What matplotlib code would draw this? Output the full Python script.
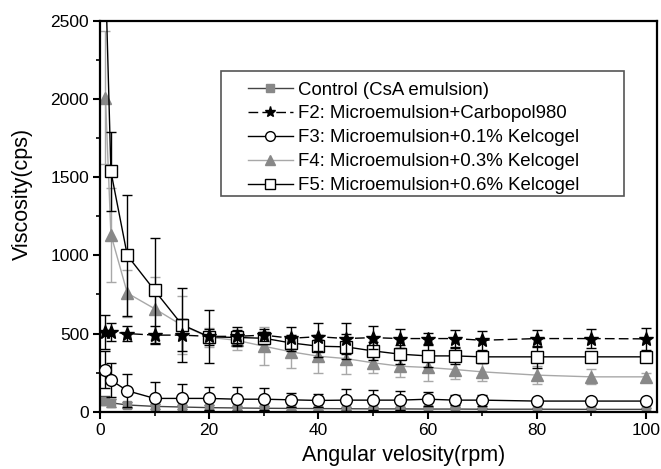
import matplotlib.pyplot as plt
from matplotlib.lines import Line2D
from matplotlib.patches import Rectangle
import numpy as np

plt.rcParams['font.family'] = ['Liberation Sans', 'DejaVu Sans']

# angular velocity (rpm)
rpm = [1, 2, 5, 10, 15, 20, 25, 30, 35, 40, 45, 50, 55, 60, 65, 70, 80, 90, 100]

# viscosity (cps) and error bars
control = [70, 57, 43, 34, 30, 26, 24, 22, 21, 20, 19, 18, 18, 17, 17, 16, 16, 15, 15]
control_err = [30, 25, 20, 18, 15, 15, 12, 12, 10, 10, 10, 10, 10, 10, 10, 10, 10, 10, 10]

f2 = [510, 510, 500, 490, 490, 482, 482, 490, 470, 480, 468, 474, 468, 468, 468, 457, 468, 468, 466]
f2_err = [110, 60, 50, 60, 100, 170, 60, 40, 70, 90, 100, 75, 60, 35, 55, 60, 55, 60, 70]

f3 = [270, 202, 134, 85, 85, 85, 80, 80, 76, 72, 74, 74, 74, 80, 74, 74, 68, 68, 68]
f3_err = [120, 110, 106, 106, 92, 75, 75, 70, 45, 40, 69, 65, 60, 45, 30, 35, 20, 15, 15]

f4 = [2010, 1133, 759, 659, 553, 476, 457, 419, 383, 355, 340, 313, 291, 283, 270, 255, 234, 223, 223]
f4_err = [425, 300, 150, 200, 185, 60, 60, 120, 105, 110, 100, 68, 68, 85, 63, 57, 57, 48, 25]

f5 = [2800, 1537, 1000, 776, 557, 479, 475, 470, 440, 419, 415, 389, 368, 357, 357, 351, 351, 351, 351]
f5_err = [250, 250, 385, 335, 236, 50, 50, 40, 50, 70, 80, 60, 60, 70, 50, 40, 70, 20, 20]

labels = ['Control (CsA emulsion)',
          'F2: Microemulsion+Carbopol980',
          'F3: Microemulsion+0.1% Kelcogel',
          'F4: Microemulsion+0.3% Kelcogel',
          'F5: Microemulsion+0.6% Kelcogel']

W, H = 661, 469
fig = plt.figure(figsize=(W / 100, H / 100), dpi=100)
ax = fig.add_axes([100 / W, 1 - 411.7 / H, 557 / W, 390.7 / H])

grey = '#888888'
light = '#a8a8a8'
dash = (0, (7, 3))

ax.errorbar(rpm, control, yerr=control_err, color='#444444', ecolor='#444444',
            marker='s', mfc=grey, mec=grey, ms=6, lw=1, capsize=3.5, elinewidth=1, zorder=2)
ax.errorbar(rpm, f2, yerr=f2_err, color='black', ecolor='black', marker='*',
            mfc='black', mec='black', ms=10, lw=1, ls=dash, capsize=3.5,
            elinewidth=1, zorder=4)
ax.errorbar(rpm, f3, yerr=f3_err, color='black', ecolor='black', marker='o',
            mfc='white', mec='black', ms=8.5, lw=1, capsize=3.5, elinewidth=1, zorder=3)
ax.errorbar(rpm, f4, yerr=f4_err, color=light, ecolor=light, marker='^',
            mfc=grey, mec=grey, ms=8, lw=1, capsize=3.5, elinewidth=1, zorder=2)
ax.errorbar(rpm, f5, yerr=f5_err, color='black', ecolor='black', marker='s',
            mfc='white', mec='black', ms=9, lw=1, capsize=3.5, elinewidth=1, zorder=3)

ax.set_xlim(0, 102)
ax.set_ylim(0, 2500)
ax.set_xticks([0, 20, 40, 60, 80, 100])
ax.set_xticks(np.arange(10, 100, 10), minor=True)
ax.set_yticks([0, 500, 1000, 1500, 2000, 2500])
ax.set_yticks(np.arange(250, 2500, 500), minor=True)
ax.tick_params(axis='both', which='major', direction='out', length=5, width=1.5,
               labelsize=12.5, pad=3)
ax.tick_params(axis='both', which='minor', direction='out', length=3, width=1.2)
for side in ['left', 'bottom', 'top', 'right']:
    ax.spines[side].set_linewidth(1.6)

ax.set_xlabel('Angular velosity(rpm)', fontsize=15.5)
ax.set_ylabel('Viscosity(cps)', fontsize=15.5)
ax.xaxis.set_label_coords(0.546, -0.086)
ax.yaxis.set_label_coords(-0.121, 0.557)

# legend: line + marker only, inside a plain box
handles = [
    Line2D([], [], color='#444444', lw=1, marker='s', mfc=grey, mec=grey, ms=6),
    Line2D([], [], color='black', lw=1, ls=dash, marker='*', mfc='black', mec='black', ms=8),
    Line2D([], [], color='black', lw=1, marker='o', mfc='white', mec='black', ms=7),
    Line2D([], [], color=light, lw=1, marker='^', mfc=grey, mec=grey, ms=7),
    Line2D([], [], color='black', lw=1, marker='s', mfc='white', mec='black', ms=7.5),
]
fig.legend(handles, labels, loc='upper left', bbox_to_anchor=(248 / W, 1 - 81.5 / H),
           bbox_transform=fig.transFigure, fontsize=13.4, frameon=False,
           borderpad=0, borderaxespad=0, labelspacing=0.37, handlelength=2.4,
           handletextpad=0.27)
fig.add_artist(Rectangle((221 / W, 1 - 196 / H), (624 - 221) / W, (196 - 71) / H,
                         transform=fig.transFigure, fill=False, edgecolor='#555555',
                         lw=1.2))

fig.savefig('out.png', dpi=100)
